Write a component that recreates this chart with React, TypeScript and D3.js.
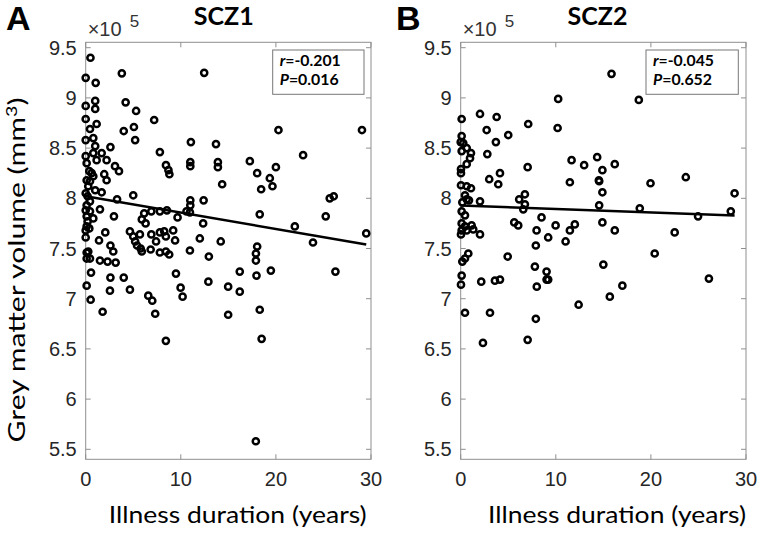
import React from "react";
import * as d3 from "d3";

// Illness duration (years) / grey matter volume (x10^5 mm^3), SCZ1
const scz1Years = [
  0.5, 3.8, 12.46, 0.0, 1.05, 1.0, 0.0, 1.0, 4.2, 5.3, 7.2, 0.0, 0.45, 1.15, 4.0, 5.07, 5.2, 0.0, 0.8, 2.6,
  7.8, 11.06, 13.7, 8.44, 8.7, 8.8, 11.0, 11.0, 13.9, 13.9, 14.35, 3.08, 3.5, 1.95, 2.2, 5.0, 1.68, 1.0, 3.3, 12.4,
  11.0, 11.0, 1.5, 2.97, 6.15, 6.9, 7.8, 8.54, 10.6, 10.96, 9.66, 5.9, 6.3, 12.35, 2.06, 4.65, 5.0, 5.7, 5.2, 5.4,
  6.9, 7.8, 8.26, 8.43, 9.2, 7.4, 9.4, 12.0, 14.2, 1.4, 2.6, 2.9, 5.78, 5.9, 6.83, 7.8, 8.43, 8.78, 10.96, 12.95,
  20.27, 29.05, 17.26, 22.86, 18.03, 20.0, 19.36, 18.45, 19.64, 25.66, 26.08, 18.3, 25.24, 21.99, 29.5, 23.9, 18.03, 17.9, 0.1, 0.1,
  1.5, 2.3, 3.15, 17.9, 0.56, 2.6, 4.0, 9.49, 12.9, 16.2, 17.96, 19.47, 26.26, 0.1, 2.55, 4.65, 6.58, 7.0, 9.98, 10.19,
  14.98, 16.2, 0.52, 1.78, 7.31, 14.98, 18.3, 8.43, 18.5, 17.89, 1.0, 1.68, 1.15, 2.2, 0.0, 0.1, 0.8, 0.38, 0.63, 0.8,
  0.1, 0.45, 0.27, 0.0, 0.2, 0.45, 0.1, 0.0, 0.45, 0.1, 0.2, 0.1, 0.8, 0.0, 0.38, 0.0, 0.27, 0.45,
];
const scz1Volume = [
  9.40, 9.245, 9.25, 9.20, 9.15, 8.97, 8.92, 8.89, 8.956, 8.87, 8.78, 8.79, 8.69, 8.74, 8.67, 8.71, 8.58, 8.58, 8.60, 8.51,
  8.46, 8.56, 8.54, 8.33, 8.28, 8.24, 8.36, 8.32, 8.36, 8.31, 8.14, 8.32, 8.27, 8.24, 8.18, 8.03, 8.06, 8.08, 7.99, 7.98,
  7.98, 7.93, 7.89, 7.82, 7.85, 7.87, 7.87, 7.88, 7.87, 7.86, 7.81, 7.79, 7.75, 7.75, 7.66, 7.67, 7.62, 7.64, 7.57, 7.53,
  7.64, 7.66, 7.67, 7.62, 7.68, 7.57, 7.58, 7.60, 7.57, 7.58, 7.53, 7.47, 7.50, 7.47, 7.49, 7.46, 7.47, 7.44, 7.48, 7.42,
  8.68, 8.68, 8.37, 8.43, 8.25, 8.31, 8.20, 8.09, 8.12, 8.00, 8.02, 7.84, 7.82, 7.72, 7.65, 7.56, 7.52, 7.45, 7.46, 7.40,
  7.38, 7.37, 7.36, 7.38, 7.26, 7.21, 7.21, 7.25, 7.17, 7.27, 7.23, 7.28, 7.27, 7.13, 7.08, 7.09, 7.03, 6.98, 7.11, 7.02,
  7.12, 7.07, 6.99, 6.87, 6.85, 6.84, 6.89, 6.58, 6.60, 5.58, 8.52, 8.45, 8.38, 8.38, 8.42, 8.35, 8.45, 8.27, 8.25, 8.22,
  8.18, 8.17, 8.12, 8.05, 8.02, 7.97, 7.93, 7.88, 7.87, 7.82, 7.77, 7.72, 7.80, 7.68, 7.70, 7.61, 7.47, 7.40,
];

// SCZ2
const scz2Years = [
  10.25, 2.03, 3.78, 0.1, 2.73, 7.1, 10.19, 5.0, 3.7, 0.1, 0.0, 0.27, 0.1, 0.63, 1.08, 0.98, 2.8, 0.63, 11.66, 12.98,
  14.35, 14.9, 7.04, 0.03, 0.03, 4.13, 3.0, 3.95, 11.48, 14.53, 14.56, 0.03, 0.63, 1.08, 14.9, 0.45, 0.87, 0.17, 0.63, 2.03,
  6.75, 6.15, 6.75, 6.58, 14.56, 0.1, 0.45, 8.5, 5.63, 6.05, 9.98, 12.0, 11.48, 14.9, 0.1, 0.45, 0.1, 0.63, 1.15, 1.32,
  2.03, 0.03, 7.98, 9.2, 11.03, 7.9, 0.8, 0.45, 4.94, 15.86, 18.73, 16.2, 19.96, 23.67, 28.8, 18.83, 24.96, 28.4, 16.2, 22.5,
  20.4, 0.17, 0.1, 0.03, 2.16, 3.6, 4.13, 7.8, 9.03, 9.03, 9.2, 8.0, 15.0, 17.0, 15.68, 12.4, 26.1, 0.45, 3.08, 7.9,
  2.34, 7.04,
];
const scz2Volume = [
  8.99, 8.84, 8.81, 8.79, 8.68, 8.74, 8.70, 8.63, 8.56, 8.62, 8.56, 8.55, 8.47, 8.50, 8.45, 8.40, 8.44, 8.34, 8.38, 8.33,
  8.41, 8.28, 8.31, 8.29, 8.25, 8.25, 8.19, 8.14, 8.16, 8.18, 8.17, 8.13, 8.12, 8.10, 8.06, 8.03, 7.98, 7.96, 7.99, 7.97,
  8.04, 7.99, 7.94, 7.89, 7.93, 7.87, 7.83, 7.81, 7.76, 7.73, 7.73, 7.74, 7.68, 7.76, 7.75, 7.72, 7.68, 7.68, 7.73, 7.69,
  7.64, 7.64, 7.68, 7.61, 7.57, 7.53, 7.45, 7.40, 7.42, 9.24, 8.98, 8.34, 8.15, 8.21, 8.05, 7.90, 7.82, 7.87, 7.68, 7.66,
  7.45, 7.37, 7.23, 7.14, 7.17, 7.18, 7.19, 7.32, 7.27, 7.19, 7.19, 7.12, 7.34, 7.13, 7.02, 6.94, 7.20, 6.86, 6.86, 6.80,
  6.56, 6.59,
];

// Linear fits (intercept, slope per year)
const scz1Fit = [8.02, -0.0163];
const scz2Fit = [7.928, -0.00348];

const panelTitles = ["SCZ1", "SCZ2"];
const panelLetters = ["A", "B"];
const statR = ["-0.201", "-0.045"];
const statP = ["0.016", "0.652"];
const xTicks = [0, 10, 20, 30];
const yTicks = [5.5, 6, 6.5, 7, 7.5, 8, 8.5, 9, 9.5];

const AXIS = "#8f8f8f";
const TICKTXT = "#262626";
const SANS = "Liberation Sans, Arial, Helvetica, sans-serif";
const HUM = "Lato, 'Open Sans', sans-serif";

type PanelProps = {
  left: number;
  right: number;
  xs: number[];
  ys: number[];
  fit: number[];
  title: string;
  titleX: number;
  letter: string;
  letterX: number;
  r: string;
  p: string;
  boxX: number;
  boxW: number;
  xLabelX: number;
};

function Panel(props: PanelProps) {
  const { left, right, xs, ys, fit, title, titleX, letter, letterX, r, p, boxX, boxW, xLabelX } = props;
  const top = 42.3;
  const bottom = 459.3;
  const x = d3.scaleLinear().domain([0, 30]).range([left, right]);
  const y = d3.scaleLinear().domain([5.5, 9.5]).range([449.3, 47.7]);
  const xMin = d3.min(xs) as number;
  const xMax = d3.max(xs) as number;
  const line = d3
    .line<number>()
    .x((d) => x(d))
    .y((d) => y(fit[0] + fit[1] * d));
  const tl = 5;
  return (
    <g>
      <text x={letterX} y={30} fontFamily={SANS} fontWeight="bold" fontSize={34} fill="#000">
        {letter}
      </text>
      <text x={titleX} y={25} textAnchor="middle" fontFamily={HUM} fontWeight="bold" fontSize={25} fill="#000">
        {title}
      </text>
      <text x={left + 2} y={36} fontFamily={SANS} fontSize={20} fill="#333">
        ×10
        <tspan dx={8} dy={-9} fontSize={17}>5</tspan>
      </text>
      <rect x={left} y={top} width={right - left} height={bottom - top} fill="#fff" stroke={AXIS} strokeWidth={1} />
      {xTicks.map((t) => (
        <g key={"x" + t}>
          <line x1={x(t)} x2={x(t)} y1={bottom} y2={bottom - tl} stroke={AXIS} />
          <line x1={x(t)} x2={x(t)} y1={top} y2={top + tl} stroke={AXIS} />
          <text x={x(t)} y={479} textAnchor="middle" dominantBaseline="central" fontFamily={SANS} fontSize={20} fill={TICKTXT}>
            {t}
          </text>
        </g>
      ))}
      {yTicks.map((t) => (
        <g key={"y" + t}>
          <line x1={left} x2={left + tl} y1={y(t)} y2={y(t)} stroke={AXIS} />
          <line x1={right} x2={right - tl} y1={y(t)} y2={y(t)} stroke={AXIS} />
          <text x={left - 9} y={y(t)} textAnchor="end" dominantBaseline="central" fontFamily={SANS} fontSize={20} fill={TICKTXT}>
            {t}
          </text>
        </g>
      ))}
      {xs.map((d, i) => (
        <circle key={i} cx={x(d)} cy={y(ys[i])} r={3.1} fill="none" stroke="#000" strokeWidth={2.5} />
      ))}
      <path d={line([xMin, xMax]) || ""} stroke="#000" strokeWidth={2.5} fill="none" />
      <rect x={boxX} y={50} width={boxW} height={44.3} fill="#fff" stroke="#777" strokeWidth={1} />
      <text x={boxX + 7} y={66} fontFamily={HUM} fontWeight="bold" fontSize={15} fill="#000" textLength={61} lengthAdjust="spacingAndGlyphs">
        <tspan fontStyle="italic">r</tspan>={r}
      </text>
      <text x={boxX + 7} y={84.5} fontFamily={HUM} fontWeight="bold" fontSize={15} fill="#000" textLength={59} lengthAdjust="spacingAndGlyphs">
        <tspan fontStyle="italic">P</tspan>={p}
      </text>
      <text x={xLabelX} y={522.5} textAnchor="middle" fontFamily={HUM} fontSize={23} fill="#000" textLength={258} lengthAdjust="spacingAndGlyphs">
        Illness duration (years)
      </text>
    </g>
  );
}

export default function App() {
  return (
    <svg width={760} height={534} style={{ position: "absolute", left: 0, top: 0, background: "#fff" }}>
      <rect x={0} y={0} width={760} height={534} fill="#fff" />
      <text
        transform="translate(25,270) rotate(-90)"
        textAnchor="middle"
        fontFamily={HUM}
        fontSize={23}
        fill="#000"
        textLength={345}
        lengthAdjust="spacingAndGlyphs"
      >
        Grey matter volume (mm<tspan dy={-8} fontSize={15}>3</tspan><tspan dy={8}>)</tspan>
      </text>
      <Panel
        left={85.7}
        right={371}
        xs={scz1Years}
        ys={scz1Volume}
        fit={scz1Fit}
        title={panelTitles[0]}
        titleX={223.8}
        letter={panelLetters[0]}
        letterX={6}
        r={statR[0]}
        p={statP[0]}
        boxX={272.7}
        boxW={91.3}
        xLabelX={237.7}
      />
      <Panel
        left={460.7}
        right={746}
        xs={scz2Years}
        ys={scz2Volume}
        fit={scz2Fit}
        title={panelTitles[1]}
        titleX={597.5}
        letter={panelLetters[1]}
        letterX={396}
        r={statR[1]}
        p={statP[1]}
        boxX={646}
        boxW={92.3}
        xLabelX={617}
      />
    </svg>
  );
}
